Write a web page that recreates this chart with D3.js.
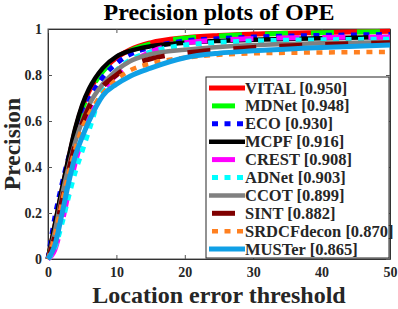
<!DOCTYPE html>
<html>
<head>
<meta charset="utf-8">
<script src="https://d3js.org/d3.v7.min.js"></script>
<style>
  body { margin: 0; background: #fff; }
  text { font-family: "Liberation Serif", "Times New Roman", serif; font-weight: bold; }
</style>
</head>
<body>
<div id="chart"></div>
<script>
// thresholds where I read the curves off the plot
var thresholds = [0, 1, 2, 3, 4, 5, 6, 8, 10, 12, 15, 20, 25, 30, 40, 50];

var trackers = ["VITAL", "MDNet", "ECO", "MCPF", "CREST", "ADNet", "CCOT", "SINT", "SRDCFdecon", "MUSTer"];
var scores = ["0.950", "0.948", "0.930", "0.916", "0.908", "0.903", "0.899", "0.882", "0.870", "0.865"];

var vital  = [0, 0.14, 0.29, 0.43, 0.56, 0.66, 0.73, 0.82, 0.875, 0.91, 0.94, 0.962, 0.972, 0.978, 0.985, 0.99];
var mdnet  = [0, 0.13, 0.28, 0.42, 0.55, 0.65, 0.72, 0.815, 0.87, 0.905, 0.935, 0.96, 0.97, 0.977, 0.984, 0.989];
var eco    = [0, 0.18, 0.32, 0.44, 0.54, 0.62, 0.69, 0.79, 0.85, 0.89, 0.92, 0.948, 0.958, 0.965, 0.972, 0.976];
var mcpf   = [0, 0.15, 0.3, 0.44, 0.57, 0.67, 0.74, 0.83, 0.88, 0.905, 0.925, 0.94, 0.948, 0.953, 0.96, 0.965];
var crest  = [0, 0.04, 0.15, 0.29, 0.42, 0.52, 0.61, 0.73, 0.8, 0.85, 0.9, 0.94, 0.952, 0.958, 0.963, 0.965];
var adnet  = [0, 0.05, 0.15, 0.27, 0.38, 0.47, 0.56, 0.74, 0.82, 0.865, 0.9, 0.93, 0.942, 0.948, 0.953, 0.956];
var ccot   = [0, 0.12, 0.27, 0.4, 0.51, 0.6, 0.67, 0.76, 0.82, 0.86, 0.89, 0.91, 0.922, 0.93, 0.938, 0.942];
var sint   = [0, 0.1, 0.25, 0.38, 0.5, 0.59, 0.66, 0.75, 0.8, 0.84, 0.87, 0.895, 0.91, 0.92, 0.932, 0.94];
var srdcf  = [0, 0.1, 0.24, 0.37, 0.48, 0.57, 0.63, 0.72, 0.78, 0.82, 0.85, 0.875, 0.888, 0.894, 0.898, 0.9];
var muster = [0, 0.06, 0.19, 0.33, 0.45, 0.53, 0.6, 0.71, 0.76, 0.795, 0.83, 0.875, 0.895, 0.905, 0.92, 0.93];

var xTicks = [0, 10, 20, 30, 40, 50];
var yTicks = [0, 0.2, 0.4, 0.6, 0.8, 1];

function init() {
  var width = 398,
    height = 309;
  var left = 48, right = 390, top = 29, bottom = 259;
  var serif = "'Liberation Serif', 'Times New Roman', serif";

  var allValues = [vital, mdnet, eco, mcpf, crest, adnet, ccot, sint, srdcf, muster];
  var colors = ["#ff0000", "#00ff00", "#0000ff", "#000000", "#ff00ff", "#00ffff", "#808080", "#800000", "#ff8020", "#10a0e6"];
  // "s" solid, "d" dashed, "o" dotted
  var styles = ["s", "d", "o", "s", "d", "o", "s", "d", "o", "s"];
  var widths = [5, 5, 5, 4.5, 5, 5, 4.5, 5, 4.5, 5];

  function dash(s) {
    if (s == "d") return "23,23";
    if (s == "o") return "6,6.5";
    return null;
  }

  var x = d3.scaleLinear().domain([0, 50]).range([left, right]);
  var y = d3.scaleLinear().domain([0, 1]).range([bottom, top]);

  var svg = d3
    .select("#chart")
    .append("svg")
    .attr("width", width)
    .attr("height", height);

  // box
  svg.append("rect")
    .attr("x", left).attr("y", top)
    .attr("width", right - left).attr("height", bottom - top)
    .attr("fill", "none").attr("stroke", "#555").attr("stroke-width", 1);

  // bottom / left axes with inward ticks
  svg.append("g")
    .attr("transform", "translate(0," + bottom + ")")
    .call(d3.axisBottom(x).tickValues(xTicks).tickSizeInner(-4).tickSizeOuter(0).tickPadding(8));
  svg.append("g")
    .attr("transform", "translate(" + left + ",0)")
    .call(d3.axisLeft(y).tickValues(yTicks).tickSizeInner(-4).tickSizeOuter(0).tickPadding(6)
      .tickFormat(function (d) { return d3.format("")(+d.toFixed(1)); }));
  // top and right ticks
  svg.append("g")
    .attr("transform", "translate(0," + top + ")")
    .call(d3.axisTop(x).tickValues(xTicks).tickSizeInner(-4).tickSizeOuter(0).tickFormat(""));
  svg.append("g")
    .attr("transform", "translate(" + right + ",0)")
    .call(d3.axisRight(y).tickValues(yTicks).tickSizeInner(-4).tickSizeOuter(0).tickFormat(""));

  svg.selectAll("g").attr("font-family", serif).attr("font-size", 14);
  svg.selectAll(".domain").attr("stroke", "#333");
  svg.selectAll(".tick line").attr("stroke", "#555");
  svg.selectAll(".tick text")
    .style("font-family", serif)
    .style("font-weight", "bold")
    .style("font-size", "14px")
    .attr("fill", "#262626");

  // curves
  var line = d3.line()
    .x(function (d) { return x(d[0]); })
    .y(function (d) { return y(d[1]); })
    .curve(d3.curveMonotoneX);

  for (var i = 0; i < trackers.length; i++) {
    var pts = thresholds.map(function (t, j) { return [t, allValues[i][j]]; });
    svg.append("path")
      .attr("d", line(pts))
      .attr("fill", "none")
      .attr("stroke", colors[i])
      .attr("stroke-width", widths[i])
      .attr("stroke-dasharray", dash(styles[i]));
  }

  // legend
  var lx = 206, ly = 77, lw = 183, lh = 181;
  var legend = svg.append("g");
  legend.append("rect")
    .attr("x", lx).attr("y", ly).attr("width", lw).attr("height", lh)
    .attr("fill", "#fff").attr("stroke", "#262626").attr("stroke-width", 1);

  for (var k = 0; k < trackers.length; k++) {
    var ry = 88 + k * 17.9;
    legend.append("line")
      .attr("x1", 209).attr("x2", 245)
      .attr("y1", ry).attr("y2", ry)
      .attr("stroke", colors[k])
      .attr("stroke-width", widths[k])
      .attr("stroke-dasharray", dash(styles[k]))
      .attr("stroke-dashoffset", styles[k] == "s" ? 0 : -3);
    legend.append("text")
      .attr("x", 245).attr("y", ry + 5.5)
      .attr("fill", "#262626")
      .style("font-family", serif)
      .style("font-size", "16.5px")
      .text(trackers[k] + " [" + scores[k] + "]");
  }

  // titles
  svg.append("text")
    .attr("x", 219).attr("y", 20)
    .attr("text-anchor", "middle")
    .attr("fill", "#000")
    .style("font-family", serif)
    .style("font-size", "24px")
    .text("Precision plots of OPE");

  svg.append("text")
    .attr("x", 219).attr("y", 303)
    .attr("text-anchor", "middle")
    .attr("fill", "#262626")
    .style("font-family", serif)
    .style("font-size", "24px")
    .text("Location error threshold");

  svg.append("text")
    .attr("transform", "translate(20," + (top + bottom) / 2 + ") rotate(-90)")
    .attr("text-anchor", "middle")
    .attr("fill", "#262626")
    .style("font-family", serif)
    .style("font-size", "23.5px")
    .text("Precision");
}

window.onload = init;
</script>
</body>
</html>
